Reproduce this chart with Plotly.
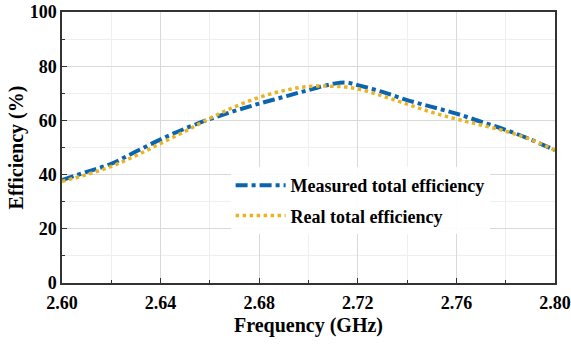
import plotly.graph_objects as go

freq = [2.60, 2.61, 2.62, 2.63, 2.64, 2.65, 2.66, 2.67, 2.68, 2.69, 2.70, 2.71, 2.715,
        2.72, 2.73, 2.74, 2.75, 2.76, 2.77, 2.78, 2.79, 2.80]
measured = [38, 41, 44, 48.5, 53, 57, 60.5, 63.5, 66.2, 68.7, 71.2, 73.5, 74,
            73, 70.5, 67.5, 65, 62.5, 59.5, 56.5, 53, 49]
real = [37.5, 40, 43, 47, 51.5, 56, 60.8, 65, 68.5, 71, 72.5, 72.6, 72.3,
        71.6, 69, 66, 63, 60.5, 58.3, 56, 53, 49]

x_ticks = [2.60, 2.64, 2.68, 2.72, 2.76, 2.80]
x_tick_labels = ["2.60", "2.64", "2.68", "2.72", "2.76", "2.80"]
y_ticks = [0, 20, 40, 60, 80, 100]

font_family = "'Liberation Serif', 'Times New Roman', serif"

fig = go.Figure()
fig.add_trace(go.Scatter(x=freq, y=measured, mode="lines", name="<b>Measured total efficiency</b>",
                         legendgroup="a",
                         line=dict(color="#0A64AE", width=4, dash="dashdot", shape="spline")))
fig.add_trace(go.Scatter(x=freq, y=real, mode="lines", name="<b>Real total efficiency</b>",
                         legendgroup="b",
                         line=dict(color="#E8B422", width=3.5, dash="dot", shape="spline")))

axis_common = dict(
    showline=True, linecolor="#333333", linewidth=1.5, mirror=True,
    ticks="inside", ticklen=5, tickcolor="#333333", tickwidth=1.2,
    showgrid=True, gridcolor="#D9D9D9", gridwidth=1,
    zeroline=False, automargin=False,
    tickfont=dict(family=font_family, size=18, color="black"),
)

fig.update_xaxes(
    range=[2.60, 2.80], tickvals=x_ticks, ticktext=["<b>%s</b>" % t for t in x_tick_labels],
    ticklabelstandoff=3,
    minor=dict(dtick=0.02, ticks="inside", ticklen=3, tickcolor="#333333", showgrid=True, gridcolor="#EFEFEF"),
    title=dict(text="<b>Frequency (GHz)</b>", font=dict(family=font_family, size=20, color="black"), standoff=6),
    **axis_common,
)
fig.update_yaxes(
    range=[0, 100], tickvals=y_ticks, ticktext=["<b>%d</b>" % t for t in y_ticks],
    minor=dict(dtick=10, ticks="inside", ticklen=3, tickcolor="#333333", showgrid=True, gridcolor="#EFEFEF"),
    title=dict(text="<b>Efficiency (%)</b>", font=dict(family=font_family, size=20, color="black"), standoff=1),
    **axis_common,
)

fig.update_layout(
    width=571, height=345,
    margin=dict(l=62, r=16, t=12, b=62),
    plot_bgcolor="white", paper_bgcolor="white",
    legend=dict(x=0.342, y=0.428, xanchor="left", yanchor="top", bgcolor="rgba(255,255,255,0.9)",
                font=dict(family=font_family, size=18, color="black"),
                tracegroupgap=4, itemwidth=50),
)

fig.write_html("out.html")
